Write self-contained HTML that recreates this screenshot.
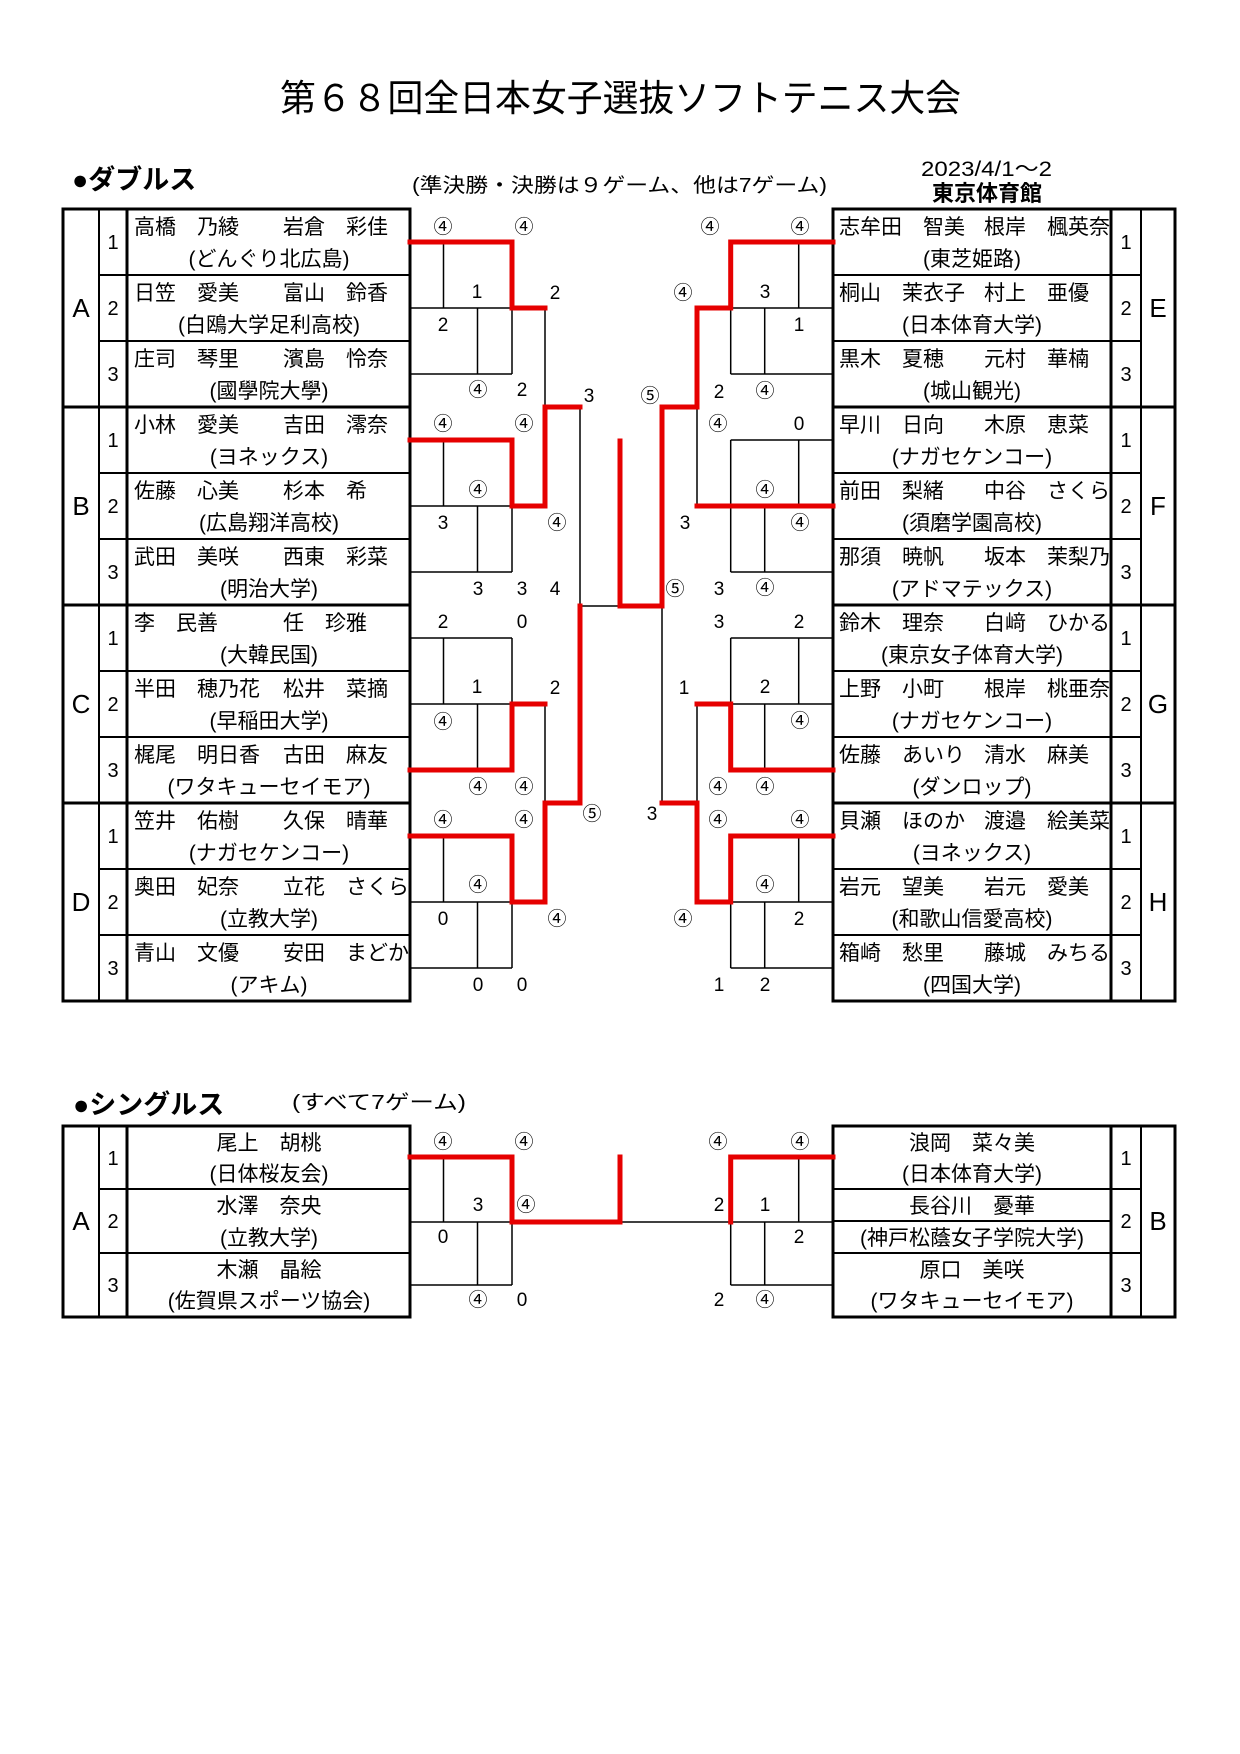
<!DOCTYPE html>
<html><head><meta charset="utf-8"><style>
html,body{margin:0;padding:0;background:#fff}
svg{display:block}
text{font-family:"Liberation Sans","Noto Sans CJK JP",sans-serif;fill:#000}
.n{font-size:21px}
.s{font-size:19px;text-anchor:middle}
.c{text-anchor:middle}
.d{font-size:20px;text-anchor:middle}
.g{font-size:26px;text-anchor:middle}
.k{stroke:#000;stroke-width:1.5;fill:none}
.r{stroke:#e60000;stroke-width:5;fill:none;stroke-linecap:square}
.t2{stroke:#000;stroke-width:2;fill:none}
.t3{stroke:#000;stroke-width:3;fill:none}
</style></head><body>
<svg width="1240" height="1754" viewBox="0 0 1240 1754" xmlns="http://www.w3.org/2000/svg">
<text x="280" y="111" style="font-size:37px" textLength="681" lengthAdjust="spacingAndGlyphs">第６８回全日本女子選抜ソフトテニス大会</text>
<text x="72" y="189" style="font-size:27px;font-weight:bold">●ダブルス</text>
<text x="412" y="192" style="font-size:20px" textLength="415" lengthAdjust="spacingAndGlyphs">(準決勝・決勝は９ゲーム、他は7ゲーム)</text>
<text x="921" y="176" style="font-size:21px" textLength="131" lengthAdjust="spacingAndGlyphs">2023/4/1～2</text>
<text x="987" y="201" class="c" style="font-size:22px;font-weight:bold">東京体育館</text>

<g>
<rect x="63" y="209" width="347" height="792" class="t3"/>
<line x1="99" y1="209" x2="99" y2="1001" class="t2"/>
<line x1="127" y1="209" x2="127" y2="1001" class="t3"/>
<path class="t2" d="M99 275H410M99 341H410M99 473H410M99 539H410M99 671H410M99 737H410M99 869H410M99 935H410"/>
<path class="t3" d="M63 407H410M63 605H410M63 803H410"/>
</g>
<g>
<rect x="833" y="209" width="342" height="792" class="t3"/>
<line x1="1111" y1="209" x2="1111" y2="1001" class="t3"/>
<line x1="1141" y1="209" x2="1141" y2="1001" class="t2"/>
<path class="t2" d="M833 275H1141M833 341H1141M833 473H1141M833 539H1141M833 671H1141M833 737H1141M833 869H1141M833 935H1141"/>
<path class="t3" d="M833 407H1175M833 605H1175M833 803H1175"/>
</g>

<g class="g"><text x="81" y="317">A</text><text x="81" y="515">B</text><text x="81" y="713">C</text><text x="81" y="911">D</text>
<text x="1158" y="317">E</text><text x="1158" y="515">F</text><text x="1158" y="713">G</text><text x="1158" y="911">H</text></g>
<g class="d">
<text x="113" y="249">1</text><text x="113" y="315">2</text><text x="113" y="381">3</text>
<text x="113" y="447">1</text><text x="113" y="513">2</text><text x="113" y="579">3</text>
<text x="113" y="645">1</text><text x="113" y="711">2</text><text x="113" y="777">3</text>
<text x="113" y="843">1</text><text x="113" y="909">2</text><text x="113" y="975">3</text>
<text x="1126" y="249">1</text><text x="1126" y="315">2</text><text x="1126" y="381">3</text>
<text x="1126" y="447">1</text><text x="1126" y="513">2</text><text x="1126" y="579">3</text>
<text x="1126" y="645">1</text><text x="1126" y="711">2</text><text x="1126" y="777">3</text>
<text x="1126" y="843">1</text><text x="1126" y="909">2</text><text x="1126" y="975">3</text>
</g>

<g class="n">
<text x="134" y="234">高橋　乃綾</text><text x="283" y="234">岩倉　彩佳</text><text x="269" y="266" class="c">(どんぐり北広島)</text>
<text x="134" y="300">日笠　愛美</text><text x="283" y="300">富山　鈴香</text><text x="269" y="332" class="c">(白鴎大学足利高校)</text>
<text x="134" y="366">庄司　琴里</text><text x="283" y="366">濱島　怜奈</text><text x="269" y="398" class="c">(國學院大學)</text>
<text x="134" y="432">小林　愛美</text><text x="283" y="432">吉田　澪奈</text><text x="269" y="464" class="c">(ヨネックス)</text>
<text x="134" y="498">佐藤　心美</text><text x="283" y="498">杉本　希</text><text x="269" y="530" class="c">(広島翔洋高校)</text>
<text x="134" y="564">武田　美咲</text><text x="283" y="564">西東　彩菜</text><text x="269" y="596" class="c">(明治大学)</text>
<text x="134" y="630">李　民善</text><text x="283" y="630">任　珍雅</text><text x="269" y="662" class="c">(大韓民国)</text>
<text x="134" y="696">半田　穂乃花</text><text x="283" y="696">松井　菜摘</text><text x="269" y="728" class="c">(早稲田大学)</text>
<text x="134" y="762">梶尾　明日香</text><text x="283" y="762">古田　麻友</text><text x="269" y="794" class="c">(ワタキューセイモア)</text>
<text x="134" y="828">笠井　佑樹</text><text x="283" y="828">久保　晴華</text><text x="269" y="860" class="c">(ナガセケンコー)</text>
<text x="134" y="894">奥田　妃奈</text><text x="283" y="894">立花　さくら</text><text x="269" y="926" class="c">(立教大学)</text>
<text x="134" y="960">青山　文優</text><text x="283" y="960">安田　まどか</text><text x="269" y="992" class="c">(アキム)</text>
</g>
<g class="n">
<text x="839" y="234">志牟田　智美</text><text x="984" y="234">根岸　楓英奈</text><text x="972" y="266" class="c">(東芝姫路)</text>
<text x="839" y="300">桐山　茉衣子</text><text x="984" y="300">村上　亜優</text><text x="972" y="332" class="c">(日本体育大学)</text>
<text x="839" y="366">黒木　夏穂</text><text x="984" y="366">元村　華楠</text><text x="972" y="398" class="c">(城山観光)</text>
<text x="839" y="432">早川　日向</text><text x="984" y="432">木原　恵菜</text><text x="972" y="464" class="c">(ナガセケンコー)</text>
<text x="839" y="498">前田　梨緒</text><text x="984" y="498">中谷　さくら</text><text x="972" y="530" class="c">(須磨学園高校)</text>
<text x="839" y="564">那須　暁帆</text><text x="984" y="564">坂本　茉梨乃</text><text x="972" y="596" class="c">(アドマテックス)</text>
<text x="839" y="630">鈴木　理奈</text><text x="984" y="630">白﨑　ひかる</text><text x="972" y="662" class="c">(東京女子体育大学)</text>
<text x="839" y="696">上野　小町</text><text x="984" y="696">根岸　桃亜奈</text><text x="972" y="728" class="c">(ナガセケンコー)</text>
<text x="839" y="762">佐藤　あいり</text><text x="984" y="762">清水　麻美</text><text x="972" y="794" class="c">(ダンロップ)</text>
<text x="839" y="828">貝瀬　ほのか</text><text x="984" y="828">渡邉　絵美菜</text><text x="972" y="860" class="c">(ヨネックス)</text>
<text x="839" y="894">岩元　望美</text><text x="984" y="894">岩元　愛美</text><text x="972" y="926" class="c">(和歌山信愛高校)</text>
<text x="839" y="960">箱崎　愁里</text><text x="984" y="960">藤城　みちる</text><text x="972" y="992" class="c">(四国大学)</text>
</g>

<path class="k" d="
M410 242H512M410 308H512M410 374H512M443.5 242V308M477.5 308V374M512 242V374
M410 440H512M410 506H512M410 572H512M443.5 440V506M477.5 506V572M512 440V572
M410 638H512M410 704H512M410 770H512M443.5 638V704M477.5 704V770M512 638V770
M410 836H512M410 902H512M410 968H512M443.5 836V902M477.5 902V968M512 836V968
M545 308V407M545 704V803M580 407V606M580 606H620"/>
<path class="k" d="
M730.7 242H833M730.7 308H833M730.7 374H833M798.7 242V308M764.7 308V374M730.7 242V374
M730.7 440H833M730.7 506H833M730.7 572H833M798.7 440V506M764.7 506V572M730.7 440V572
M730.7 638H833M730.7 704H833M730.7 770H833M798.7 638V704M764.7 704V770M730.7 638V770
M730.7 836H833M730.7 902H833M730.7 968H833M798.7 836V902M764.7 902V968M730.7 836V968
M697 407V506M697 704V803M662 606V803"/>
<path class="r" d="
M410 242H512V308H545
M410 440H512V506H545V407H580
M410 770H512V704H545
M410 836H512V902H545V803H580V606
M620 441V606H662V407H697V308H730.7V242H833
M697 506H833
M697 803H662
M697 704H730.7V770H833
M697 803V902H730.7V836H833"/>

<g class="s">
<text x="443" y="233">④</text><text x="524" y="233">④</text><text x="477" y="298">1</text><text x="555" y="299">2</text><text x="443" y="331">2</text><text x="478" y="396">④</text><text x="522" y="396">2</text><text x="589" y="402">3</text>
<text x="443" y="430">④</text><text x="524" y="430">④</text><text x="478" y="496">④</text><text x="443" y="529">3</text><text x="557" y="529">④</text><text x="478" y="595">3</text><text x="522" y="595">3</text><text x="555" y="595">4</text>
<text x="443" y="628">2</text><text x="522" y="628">0</text><text x="477" y="693">1</text><text x="555" y="694">2</text><text x="443" y="728">④</text><text x="478" y="793">④</text><text x="524" y="793">④</text><text x="592" y="820">⑤</text>
<text x="443" y="826">④</text><text x="524" y="826">④</text><text x="478" y="891">④</text><text x="443" y="925">0</text><text x="557" y="925">④</text><text x="478" y="991">0</text><text x="522" y="991">0</text>
<text x="710" y="233">④</text><text x="800" y="233">④</text><text x="683" y="299">④</text><text x="765" y="298">3</text><text x="799" y="331">1</text><text x="650" y="402">⑤</text><text x="719" y="398">2</text><text x="765" y="397">④</text>
<text x="718" y="430">④</text><text x="799" y="430">0</text><text x="765" y="496">④</text><text x="685" y="529">3</text><text x="800" y="529">④</text><text x="675" y="595">⑤</text><text x="719" y="595">3</text><text x="765" y="594">④</text>
<text x="719" y="628">3</text><text x="799" y="628">2</text><text x="684" y="694">1</text><text x="765" y="693">2</text><text x="800" y="727">④</text><text x="718" y="793">④</text><text x="765" y="793">④</text><text x="652" y="820">3</text>
<text x="718" y="826">④</text><text x="800" y="826">④</text><text x="765" y="891">④</text><text x="683" y="925">④</text><text x="799" y="925">2</text><text x="719" y="991">1</text><text x="765" y="991">2</text>
</g>

<text x="73" y="1114" style="font-size:27px;font-weight:bold">●シングルス</text>
<text x="292" y="1109" style="font-size:20px" textLength="174" lengthAdjust="spacingAndGlyphs">(すべて7ゲーム)</text>
<rect x="63" y="1126" width="347" height="191" class="t3"/>
<line x1="99" y1="1126" x2="99" y2="1317" class="t2"/>
<line x1="127" y1="1126" x2="127" y2="1317" class="t3"/>
<path class="t2" d="M99 1189H410M99 1253H410"/>
<rect x="833" y="1126" width="342" height="191" class="t3"/>
<line x1="1111" y1="1126" x2="1111" y2="1317" class="t3"/>
<line x1="1141" y1="1126" x2="1141" y2="1317" class="t2"/>
<path class="t2" d="M833 1189H1141M833 1253H1141M833 1221H1111"/>
<text x="81" y="1230" class="g">A</text><text x="1158" y="1230" class="g">B</text>
<g class="d"><text x="113" y="1165">1</text><text x="113" y="1228">2</text><text x="113" y="1292">3</text>
<text x="1126" y="1165">1</text><text x="1126" y="1228">2</text><text x="1126" y="1292">3</text></g>
<g class="n">
<text x="269" y="1150" class="c">尾上　胡桃</text><text x="269" y="1181" class="c">(日体桜友会)</text>
<text x="269" y="1213" class="c">水澤　奈央</text><text x="269" y="1245" class="c">(立教大学)</text>
<text x="269" y="1277" class="c">木瀬　晶絵</text><text x="269" y="1308" class="c">(佐賀県スポーツ協会)</text>
<text x="972" y="1150" class="c">浪岡　菜々美</text><text x="972" y="1181" class="c">(日本体育大学)</text>
<text x="972" y="1213" class="c">長谷川　憂華</text><text x="972" y="1245" class="c">(神戸松蔭女子学院大学)</text>
<text x="972" y="1277" class="c">原口　美咲</text><text x="972" y="1308" class="c">(ワタキューセイモア)</text>
</g>
<path class="k" d="M443.5 1157V1222M410 1222H512M477.5 1222V1285M410 1285H512M512 1222V1285
M620 1222H833M798.7 1157V1222M764.7 1222V1285M730.7 1222V1285M730.7 1285H833"/>
<path class="r" d="M410 1157H512V1222H620V1157M730.7 1222V1157H833"/>
<g class="s">
<text x="443" y="1148">④</text><text x="524" y="1148">④</text><text x="478" y="1211">3</text><text x="526" y="1211">④</text><text x="443" y="1243">0</text><text x="478" y="1306">④</text><text x="522" y="1306">0</text>
<text x="718" y="1148">④</text><text x="800" y="1148">④</text><text x="719" y="1211">2</text><text x="765" y="1211">1</text><text x="799" y="1243">2</text><text x="719" y="1306">2</text><text x="765" y="1306">④</text>
</g>
</svg>
</body></html>
